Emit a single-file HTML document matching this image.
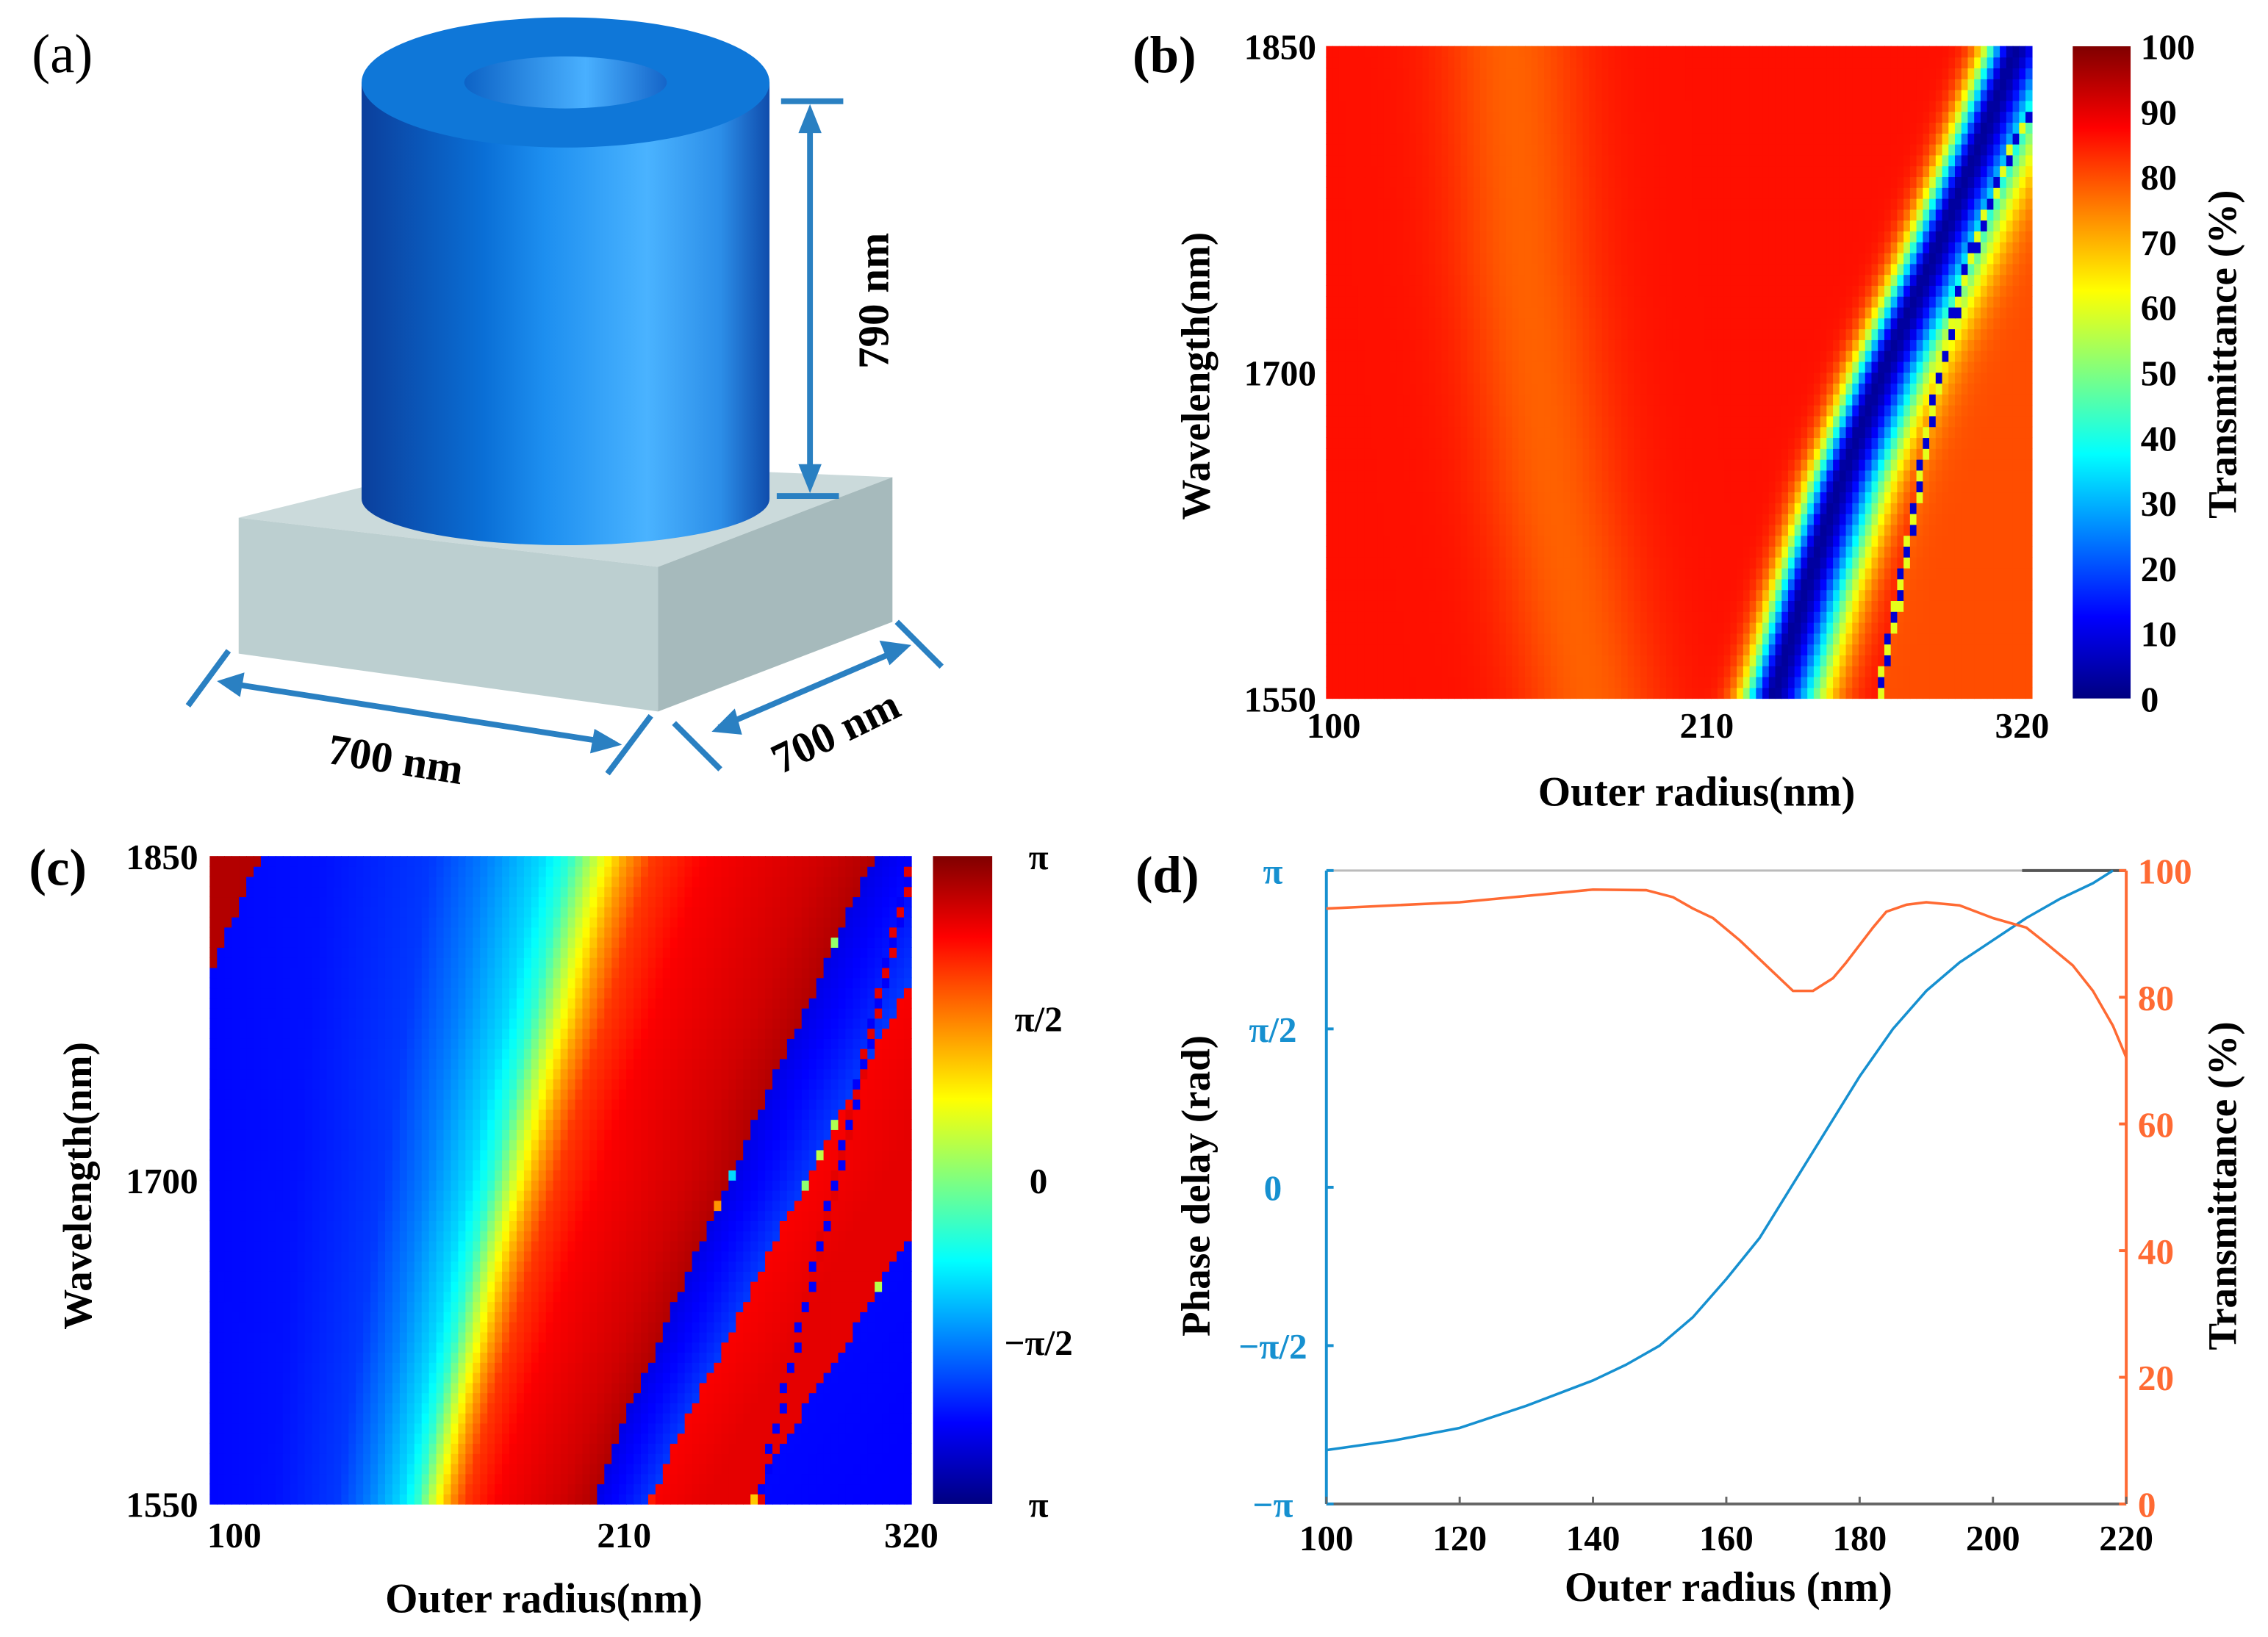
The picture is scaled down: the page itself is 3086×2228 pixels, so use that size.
<!DOCTYPE html>
<html><head><meta charset="utf-8"><title>Nanopillar transmittance and phase figure</title>
<style>
html,body{margin:0;padding:0;background:#fff;}
svg{display:block;}
text{font-family:"Liberation Serif",serif;font-weight:bold;}
</style></head>
<body>
<svg id="fig" xmlns="http://www.w3.org/2000/svg" width="3086" height="2228" viewBox="0 0 1568 1132" preserveAspectRatio="none">
<defs>
<linearGradient id="cylGrad" x1="0" x2="1" y1="0" y2="0">
<stop offset="0" stop-color="#0b3f9c"/><stop offset="0.3" stop-color="#0a6fd6"/><stop offset="0.45" stop-color="#1d8ff0"/><stop offset="0.7" stop-color="#4ab3ff"/><stop offset="0.88" stop-color="#2c8ee8"/><stop offset="1" stop-color="#0f4cac"/>
</linearGradient>
<linearGradient id="holeGrad" x1="0" x2="1" y1="0" y2="0">
<stop offset="0" stop-color="#0d63c6"/><stop offset="0.6" stop-color="#49b0ff"/><stop offset="1" stop-color="#1565c8"/>
</linearGradient>
<linearGradient id="jetV" x1="0" x2="0" y1="1" y2="0">
<stop offset="0" stop-color="#000080"/><stop offset="0.125" stop-color="#0000ff"/><stop offset="0.375" stop-color="#00ffff"/><stop offset="0.625" stop-color="#ffff00"/><stop offset="0.875" stop-color="#ff0000"/><stop offset="1" stop-color="#800000"/>
</linearGradient>
</defs>

<!-- Panel a -->
<g>
<text x="22" y="50" font-size="38" style="font-weight:normal">(a)</text>
<polygon points="165,358 327,318 617,330 455,392" fill="#cbdadb"/>
<polygon points="165,358 455,392 455,492 165,452" fill="#bccfd0"/>
<polygon points="455,392 617,330 617,430 455,492" fill="#a6babc"/>
<path d="M250,57 L250,345 A141,32 0 0 0 532,345 L532,57 Z" fill="url(#cylGrad)"/>
<ellipse cx="391" cy="57" rx="141" ry="45" fill="#0f77d8"/>
<ellipse cx="391" cy="57" rx="70" ry="18" fill="url(#holeGrad)"/>
<g stroke="#2a80c2" stroke-width="4" fill="#2a80c2">
<line x1="540" y1="70" x2="583" y2="70"/><line x1="537" y1="343" x2="580" y2="343"/>
<line x1="560" y1="82" x2="560" y2="331"/>
<polygon points="560,72 552,92 568,92" stroke="none"/><polygon points="560,341 552,321 568,321" stroke="none"/>
</g>
<text transform="translate(614,208) rotate(-90)" text-anchor="middle" font-size="30">790 nm</text>
<g stroke="#2a80c2" stroke-width="4" fill="#2a80c2">
<line x1="130" y1="488" x2="158" y2="450"/><line x1="420" y1="535" x2="450" y2="495"/>
<line x1="155" y1="472" x2="425" y2="514"/>
<polygon points="150,471 169,465 166,482" stroke="none"/><polygon points="430,515 411,504 408,521" stroke="none"/>
</g>
<text transform="translate(272,535) rotate(9)" text-anchor="middle" font-size="30">700 nm</text>
<g stroke="#2a80c2" stroke-width="4" fill="#2a80c2">
<line x1="466" y1="500" x2="498" y2="532"/><line x1="620" y1="430" x2="651" y2="461"/>
<line x1="497" y1="503" x2="625" y2="448"/>
<polygon points="492,506 508,490 513,508" stroke="none"/><polygon points="630,446 608,443 615,460" stroke="none"/>
</g>
<text transform="translate(582,515) rotate(-26)" text-anchor="middle" font-size="30">700 nm</text>
</g>

<g id="panelB"></g>
<g id="panelC"></g>
<g id="panelD"></g>
</svg>

<script>
// ---------- Panel (b) data ----------
const bWavelengths = [1550, 1600, 1650, 1700, 1750, 1800, 1850];
const bDipCenter   = [239, 249, 260, 273, 288, 302, 315];
const bOrangeCenter= [182, 176, 170, 166, 162, 160, 158];
const bStepRadius  = [272, 279, 285, 291, 300, 313, 330];
const bTicksY = [1550, 1700, 1850];
const bTicksX = [100, 210, 320];
const bCbarTicks = [0, 10, 20, 30, 40, 50, 60, 70, 80, 90, 100];

// ---------- Panel (c) data ----------
const cWavelengths = [1550, 1625, 1700, 1775, 1850];
const cScale       = [1, 0.85, 0.735, 0.645, 0.575];
const cProfileR    = [100, 120, 140, 150, 160, 165, 170, 175, 180, 190, 200, 210, 219.9, 220, 230, 237.9, 238, 255, 269.9, 270, 340];
const cProfileF    = [0.13, 0.14, 0.18, 0.25, 0.34, 0.42, 0.58, 0.72, 0.82, 0.88, 0.9, 0.92, 0.95, 0.1, 0.14, 0.18, 0.88, 0.9, 0.9, 0.13, 0.12];
const cCornerWl    = [1796, 1850];
const cCornerR     = [100, 116];
const cStepWl      = [1550, 1700, 1845];
const cStepR       = [272, 296, 320];
const cTicksY = [1550, 1700, 1850];
const cTicksX = [100, 210, 320];
const cCbarLabels = ["π", "π/2", "0", "−π/2", "π"];

// ---------- Panel (d) data ----------
const dRadiusPhase = [100, 110, 120, 130, 140, 145, 150, 155, 160, 165, 170, 175, 180, 185, 190, 195, 200, 205, 210, 215, 218];
const dPhase       = [-0.83, -0.8, -0.76, -0.69, -0.61, -0.56, -0.5, -0.41, -0.29, -0.16, 0.01, 0.18, 0.35, 0.5, 0.62, 0.71, 0.78, 0.85, 0.91, 0.96, 1.0];
const dRadiusT     = [100, 104, 120, 130, 140, 148, 152, 155, 158, 162, 165, 167, 170, 173, 176, 178, 182, 184, 187, 190, 195, 200, 205, 208, 212, 215, 218, 220];
const dTrans       = [94, 94.2, 95, 96, 97, 96.9, 95.8, 94, 92.5, 89, 86, 84, 81, 81, 83, 85.5, 91, 93.5, 94.6, 95, 94.5, 92.5, 91, 88.5, 85, 81, 75.5, 70.5];
const dTicksX = [100, 120, 140, 160, 180, 200, 220];
const dPhaseLabels = ["−π", "−π/2", "0", "π/2", "π"];
const dPhaseTickVals = [-1, -0.5, 0, 0.5, 1];
const dTTicks = [0, 20, 40, 60, 80, 100];

const NS = "http://www.w3.org/2000/svg";
function mk(tag, attrs, parent) {
  const e = document.createElementNS(NS, tag);
  for (const k in attrs) e.setAttribute(k, attrs[k]);
  parent.appendChild(e);
  return e;
}
function interp(xs, ys, x) {
  if (x <= xs[0]) return ys[0];
  for (let i = 1; i < xs.length; i++) {
    if (x <= xs[i]) { const t = (x - xs[i-1]) / (xs[i] - xs[i-1]); return ys[i-1] + t * (ys[i] - ys[i-1]); }
  }
  return ys[ys.length - 1];
}
function clamp(v) { return Math.max(0, Math.min(1, v)); }
function jet(f) {
  f = clamp(f);
  const r = clamp(1.5 - Math.abs(4*f - 3)), g = clamp(1.5 - Math.abs(4*f - 2)), b = clamp(1.5 - Math.abs(4*f - 1));
  return "rgb(" + Math.round(r*255) + "," + Math.round(g*255) + "," + Math.round(b*255) + ")";
}
function txt(parent, x, y, s, size, anchor, color, name) {
  const t = mk("text", {x: x, y: y, "font-size": size, "text-anchor": anchor || "start", fill: color || "#000"}, parent);
  t.textContent = s;
  
  
  return t;
}
function rtxt(parent, x, y, s, size, angle, color, name) {
  const t = mk("text", {transform: "translate(" + x + "," + y + ") rotate(" + angle + ")", "font-size": size, "text-anchor": "middle", fill: color || "#000"}, parent);
  t.textContent = s;
  
  
  return t;
}

// ---------- draw panel (b) ----------
(function () {
  const g = document.getElementById("panelB");
  const X0 = 917, X1 = 1405, Y0 = 32, Y1 = 483;
  const xs = r => X0 + (r - 100) / 220 * (X1 - X0);
  const ys = w => Y1 - (w - 1550) / 300 * (Y1 - Y0);
  const nC = 110, nR = 60;
  const cells = mk("g", {}, g);
  
  
  for (let j = 0; j < nR; j++) {
    const w = 1550 + (j + 0.5) * 300 / nR;
    const dc = interp(bWavelengths, bDipCenter, w);
    const oc = interp(bWavelengths, bOrangeCenter, w);
    const st = interp(bWavelengths, bStepRadius, w);
    for (let i = 0; i < nC; i++) {
      const r = 100 + (i + 0.5) * 220 / nC;
      let base = 86 - 8 * Math.exp(-Math.pow((r - oc) / 22, 2));
      if (r > st) base = 80;
      const wid = r > dc ? 15 : 9;
      let T = base * (1 - 0.97 * Math.exp(-Math.pow((r - dc) / wid, 2)));
      if (Math.abs(r - st) < 1.1) T = (j % 2) ? 8 : 60;
      const rc = mk("rect", {x: xs(r - 1.1), y: ys(w + 2.6), width: (X1 - X0) / nC + 0.4, height: (Y1 - Y0) / nR + 0.4, fill: jet(T / 100)}, cells);
      
      
    }
  }
  const cb = mk("rect", {x: 1433, y: Y0, width: 40, height: Y1 - Y0, fill: "url(#jetV)"}, g);
  
  
  bCbarTicks.forEach(v => txt(g, 1480, Y1 - v / 100 * (Y1 - Y0) + 9, String(v), 25, "start", "#000", "colorbar-tick-label"));
  bTicksY.forEach(v => txt(g, 910, ys(v) + 9, String(v), 25, "end", "#000", "y-tick-label"));
  bTicksX.forEach((v, k) => txt(g, xs(v) + (k === 0 ? 5 : k === 1 ? 19 : -7), 510, String(v), 25, "middle", "#000", "x-tick-label"));
  rtxt(g, 836, 260, "Wavelength(nm)", 28, -90, "#000", "y-axis-title");
  txt(g, 1173, 557, "Outer radius(nm)", 29, "middle", "#000", "x-axis-title");
  rtxt(g, 1546, 245, "Transmittance (%)", 28, -90, "#000", "colorbar-title");
  txt(g, 783, 50, "(b)", 36, "start", "#000", "panel-b-label");
})();

// ---------- draw panel (c) ----------
(function () {
  const g = document.getElementById("panelC");
  const X0 = 145, X1 = 630, Y0 = 592, Y1 = 1040;
  const xs = r => X0 + (r - 100) / 220 * (X1 - X0);
  const ys = w => Y1 - (w - 1550) / 300 * (Y1 - Y0);
  const nC = 96, nR = 64;
  const cells = mk("g", {}, g);
  
  
  for (let j = 0; j < nR; j++) {
    const w = 1550 + (j + 0.5) * 300 / nR;
    const s = interp(cWavelengths, cScale, w);
    const st = interp(cStepWl, cStepR, w);
    const cr = w >= cCornerWl[0] ? interp(cCornerWl, cCornerR, w) : 0;
    for (let i = 0; i < nC; i++) {
      const r = 100 + (i + 0.5) * 220 / nC;
      const re = 100 + (r - 100) * s;
      let f = interp(cProfileR, cProfileF, re);
      if (r < cr) f = 0.95;
      if (Math.abs(r - st) < 1.2) f = (j % 2) ? 0.12 : 0.9;
      const rc = mk("rect", {x: xs(r - 1.15), y: ys(w + 2.35), width: (X1 - X0) / nC + 0.4, height: (Y1 - Y0) / nR + 0.4, fill: jet(f)}, cells);
      
      
    }
  }
  const cb = mk("rect", {x: 645, y: Y0, width: 41, height: Y1 - Y0, fill: "url(#jetV)"}, g);
  
  
  cCbarLabels.forEach((s, k) => txt(g, 718, Y0 + 9 + k * (Y1 - Y0) / 4, s, 25, "middle", "#000", "colorbar-tick-label"));
  cTicksY.forEach(v => txt(g, 137, ys(v) + 9, String(v), 25, "end", "#000", "y-tick-label"));
  cTicksX.forEach((v, k) => txt(g, xs(v) + (k === 0 ? 17 : k === 1 ? 44 : 0), 1070, String(v), 25, "middle", "#000", "x-tick-label"));
  rtxt(g, 63, 820, "Wavelength(nm)", 28, -90, "#000", "y-axis-title");
  txt(g, 376, 1115, "Outer radius(nm)", 29, "middle", "#000", "x-axis-title");
  txt(g, 20, 612, "(c)", 36, "start", "#000", "panel-c-label");
})();

// ---------- draw panel (d) ----------
(function () {
  const g = document.getElementById("panelD");
  const X0 = 917, X1 = 1470, Y0 = 602, Y1 = 1040;
  const blue = "#1690d0", orange = "#ff6a33";
  const xs = r => X0 + (r - 100) / 120 * (X1 - X0);
  const yp = p => (Y0 + Y1) / 2 - p * (Y1 - Y0) / 2;
  const yt = t => Y1 - t / 100 * (Y1 - Y0);
  const frame = mk("g", {}, g);
  
  
  mk("line", {x1: X0, y1: Y0, x2: X1, y2: Y0, stroke: "#bbb", "stroke-width": 1.5}, frame);
  mk("line", {x1: X0, y1: Y1, x2: X1, y2: Y1, stroke: "#666", "stroke-width": 2}, frame);
  mk("line", {x1: 1398, y1: Y0, x2: X1, y2: Y0, stroke: "#555", "stroke-width": 2}, frame);
  mk("line", {x1: X0, y1: Y0, x2: X0, y2: Y1, stroke: blue, "stroke-width": 2}, frame);
  mk("line", {x1: X1, y1: Y0, x2: X1, y2: Y1, stroke: orange, "stroke-width": 2}, frame);
  dPhaseTickVals.forEach((v, k) => {
    mk("line", {x1: X0, y1: yp(v), x2: X0 + 5, y2: yp(v), stroke: blue, "stroke-width": 2}, frame);
    txt(g, 880, yp(v) + 9, dPhaseLabels[k], 25, "middle", blue, "left-y-tick-label");
  });
  dTTicks.forEach(v => {
    mk("line", {x1: X1 - 5, y1: yt(v), x2: X1, y2: yt(v), stroke: orange, "stroke-width": 2}, frame);
    txt(g, 1478, yt(v) + 9, String(v), 25, "start", orange, "right-y-tick-label");
  });
  dTicksX.forEach(v => {
    mk("line", {x1: xs(v), y1: Y1, x2: xs(v), y2: Y1 - 5, stroke: "#666", "stroke-width": 1.5}, frame);
    txt(g, xs(v), 1072, String(v), 25, "middle", "#000", "x-tick-label");
  });
  const pp = mk("polyline", {points: dRadiusPhase.map((r, i) => xs(r) + "," + yp(dPhase[i])).join(" "), fill: "none", stroke: blue, "stroke-width": 1.8, "stroke-linejoin": "round"}, g);
  
  
  const tp = mk("polyline", {points: dRadiusT.map((r, i) => xs(r) + "," + yt(dTrans[i])).join(" "), fill: "none", stroke: orange, "stroke-width": 1.8, "stroke-linejoin": "round"}, g);
  
  
  rtxt(g, 836, 820, "Phase delay (rad)", 28, -90, "#000", "left-y-axis-title");
  rtxt(g, 1546, 820, "Transmittance (%)", 28, -90, "#000", "right-y-axis-title");
  txt(g, 1195, 1107, "Outer radius (nm)", 29, "middle", "#000", "x-axis-title");
  txt(g, 785, 617, "(d)", 36, "start", "#000", "panel-d-label");
})();
</script>
</body></html>
